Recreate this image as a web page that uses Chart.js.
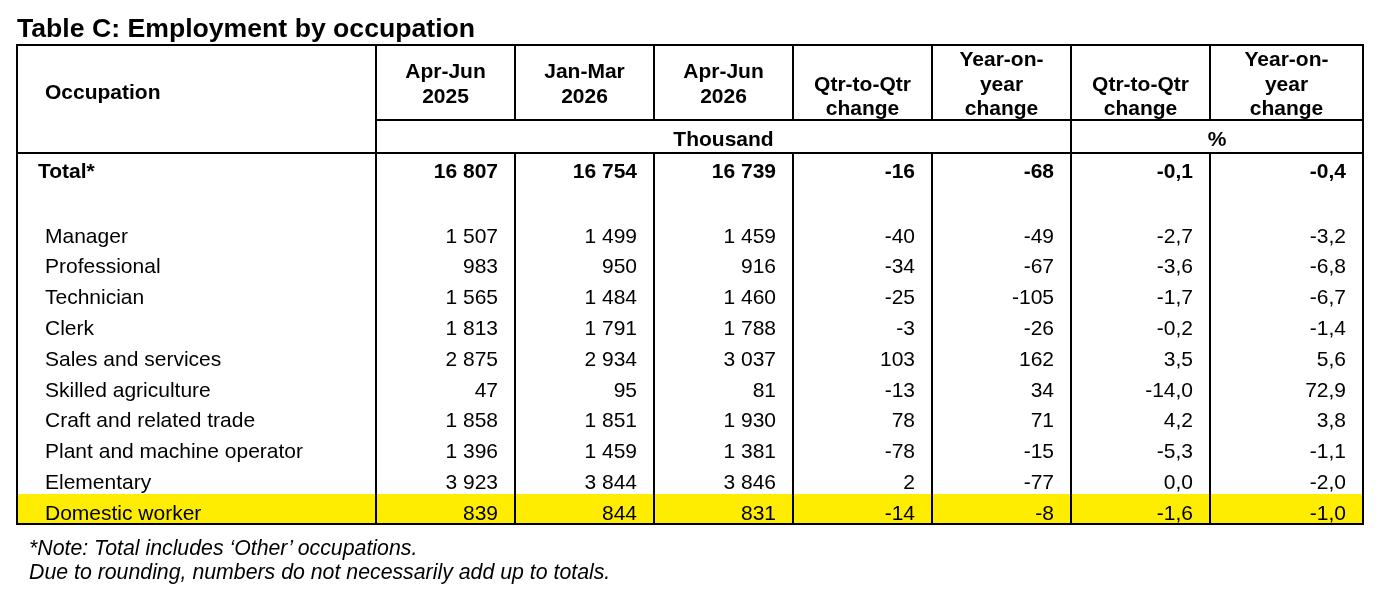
<!DOCTYPE html>
<html>
<head>
<meta charset="utf-8">
<script src="https://cdn.jsdelivr.net/npm/chart.js@4"></script>
<style>
    body {
        margin: 0;
        background: #ffffff;
        font-family: "Liberation Sans", Arial, sans-serif;
    }
    .wrap {
        position: relative;
        width: 1381px;
        height: 592px;
    }
    #tableChart {
        position: absolute;
        left: 0;
        top: 0;
    }
    .table__title {
        position: absolute;
        left: 17px;
        top: 15.5px;
        font-size: 25px;
        line-height: 1;
        font-weight: bold;
        color: #000;
        white-space: nowrap;
        transform: scaleX(1.065);
        transform-origin: left top;
    }
    .table__note {
        position: absolute;
        left: 29px;
        top: 536px;
        font-size: 21.3px;
        line-height: 24px;
        font-style: italic;
        color: #000;
        white-space: nowrap;
    }
</style>
</head>
<body>
<div class="wrap">
    <canvas id="tableChart" width="1381" height="592"></canvas>
    <div class="table__title">Table C: Employment by occupation</div>
    <div class="table__note">*Note: Total includes ‘Other’ occupations.<br>Due to rounding, numbers do not necessarily add up to totals.</div>
</div>
<script>
//данные таблицы
const occupations = [
    "Manager",
    "Professional",
    "Technician",
    "Clerk",
    "Sales and services",
    "Skilled agriculture",
    "Craft and related trade",
    "Plant and machine operator",
    "Elementary",
    "Domestic worker",
];
const aprJun2025 = [1507, 983, 1565, 1813, 2875, 47, 1858, 1396, 3923, 839];
const janMar2026 = [1499, 950, 1484, 1791, 2934, 95, 1851, 1459, 3844, 844];
const aprJun2026 = [1459, 916, 1460, 1788, 3037, 81, 1930, 1381, 3846, 831];
const qtrChange = [-40, -34, -25, -3, 103, -13, 78, -78, 2, -14];
const yoyChange = [-49, -67, -105, -26, 162, 34, 71, -15, -77, -8];
const qtrChangePct = [-2.7, -3.6, -1.7, -0.2, 3.5, -14.0, 4.2, -5.3, 0.0, -1.6];
const yoyChangePct = [-3.2, -6.8, -6.7, -1.4, 5.6, 72.9, 3.8, -1.1, -2.0, -1.0];
const totalLabel = "Total*";
const totals = [16807, 16754, 16739, -16, -68, -0.1, -0.4];
const columnHeaders = [
    ["Apr-Jun", "2025"],
    ["Jan-Mar", "2026"],
    ["Apr-Jun", "2026"],
    ["Qtr-to-Qtr", "change"],
    ["Year-on-", "year", "change"],
    ["Qtr-to-Qtr", "change"],
    ["Year-on-", "year", "change"],
];
const firstHeader = "Occupation";
const unitLabels = ["Thousand", "%"];
const highlightRow = "Domestic worker";

//разметка (в единицах шкал)
const TABLE_W = 1346;
const TABLE_H = 479;
const colEdges = [0, 359, 498, 637, 776, 915, 1054, 1193, 1346];
const unitSpans = [
    [1, 6],
    [6, 8],
];
const HEADER_BOTTOM = 75;
const UNIT_BOTTOM = 108;
const TOTAL_BASE = 133;
const ROW_BASE = 197.5;
const ROW_STEP = 30.8;
const HIGHLIGHT_TOP = 449;
const CELL_PAD = 17;
const FONT = '"Liberation Sans", Arial, sans-serif';
const highlightColor = "#ffed00";

function fmtThousand(v) {
    const sign = v < 0 ? "-" : "";
    const s = String(Math.abs(v));
    return sign + s.replace(/\B(?=(\d{3})+(?!\d))/g, " ");
}
function fmtPct(v) {
    return v.toFixed(1).replace(".", ",");
}
function rowBase(i) {
    return ROW_BASE + i * ROW_STEP;
}

const numericColumns = [
    aprJun2025,
    janMar2026,
    aprJun2026,
    qtrChange,
    yoyChange,
    qtrChangePct,
    yoyChangePct,
];

const datasets = [];
//названия строк
datasets.push({
    kind: "label",
    texts: [totalLabel].concat(occupations),
    data: [{ x: 21, y: TOTAL_BASE }].concat(
        occupations.map((o, i) => ({ x: 28, y: rowBase(i) }))
    ),
    pointRadius: 0,
});
numericColumns.forEach((values, c) => {
    const fmt = c < 5 ? fmtThousand : fmtPct;
    const anchor = colEdges[c + 2] - CELL_PAD;
    datasets.push({
        kind: "number",
        texts: [fmt(totals[c])].concat(values.map(fmt)),
        data: [{ x: anchor, y: TOTAL_BASE }].concat(
            values.map((v, i) => ({ x: anchor, y: rowBase(i) }))
        ),
        pointRadius: 0,
    });
});

const tablePlugin = {
    id: "tableGrid",
    beforeDatasetsDraw(chart) {
        const ctx = chart.ctx;
        const sx = chart.scales.x;
        const sy = chart.scales.y;
        const px = (v) => sx.getPixelForValue(v);
        const py = (v) => sy.getPixelForValue(v);
        ctx.save();
        //подсветка строки
        const hi = occupations.indexOf(highlightRow);
        if (hi >= 0) {
            ctx.fillStyle = highlightColor;
            ctx.fillRect(
                px(0),
                py(HIGHLIGHT_TOP),
                px(TABLE_W) - px(0),
                py(TABLE_H) - py(HIGHLIGHT_TOP)
            );
        }
        //линии
        ctx.strokeStyle = "#000";
        ctx.lineWidth = 2;
        ctx.beginPath();
        function line(x1, y1, x2, y2) {
            ctx.moveTo(px(x1), py(y1));
            ctx.lineTo(px(x2), py(y2));
        }
        line(colEdges[1], HEADER_BOTTOM, TABLE_W, HEADER_BOTTOM);
        line(0, UNIT_BOTTOM, TABLE_W, UNIT_BOTTOM);
        for (let i = 1; i < colEdges.length - 1; i++) {
            const e = colEdges[i];
            const full = unitSpans.some((s) => colEdges[s[0]] === e);
            if (full) {
                line(e, 0, e, TABLE_H);
            } else {
                line(e, 0, e, HEADER_BOTTOM);
                line(e, UNIT_BOTTOM, e, TABLE_H);
            }
        }
        ctx.stroke();
        ctx.strokeRect(px(0), py(0), px(TABLE_W) - px(0), py(TABLE_H) - py(0));
        ctx.restore();
    },
    afterDatasetsDraw(chart) {
        const ctx = chart.ctx;
        const sx = chart.scales.x;
        const sy = chart.scales.y;
        ctx.save();
        ctx.fillStyle = "#000";
        ctx.textBaseline = "alphabetic";
        //шапка
        ctx.font = "bold 21px " + FONT;
        ctx.textAlign = "left";
        ctx.fillText(firstHeader, sx.getPixelForValue(28), sy.getPixelForValue(54));
        ctx.textAlign = "center";
        columnHeaders.forEach((lines, c) => {
            const cx = sx.getPixelForValue((colEdges[c + 1] + colEdges[c + 2]) / 2);
            let start;
            if (c < 3) {
                start = 33.3; // по центру
            } else {
                start = 70 - (lines.length - 1) * 24.5; // по низу
            }
            lines.forEach((t, k) => {
                ctx.fillText(t, cx, sy.getPixelForValue(start + k * 24.5));
            });
        });
        unitLabels.forEach((t, k) => {
            const s = unitSpans[k];
            const cx = sx.getPixelForValue((colEdges[s[0]] + colEdges[s[1]]) / 2);
            ctx.fillText(t, cx, sy.getPixelForValue(101));
        });
        //ячейки
        chart.data.datasets.forEach((ds, d) => {
            const meta = chart.getDatasetMeta(d);
            ctx.textAlign = ds.kind === "label" ? "left" : "right";
            meta.data.forEach((pt, i) => {
                ctx.font = (i === 0 ? "bold " : "") + "21px " + FONT;
                ctx.fillText(ds.texts[i], pt.x, pt.y);
            });
        });
        ctx.restore();
    },
};

new Chart(document.getElementById("tableChart"), {
    type: "scatter",
    data: { datasets: datasets },
    options: {
        responsive: false,
        animation: false,
        events: [],
        layout: {
            padding: { left: 17, top: 45, right: 18, bottom: 68 },
        },
        plugins: {
            legend: { display: false },
            tooltip: { enabled: false },
        },
        scales: {
            x: { type: "linear", display: false, min: 0, max: TABLE_W },
            y: {
                type: "linear",
                display: false,
                reverse: true,
                min: 0,
                max: TABLE_H,
            },
        },
    },
    plugins: [tablePlugin],
});
</script>
</body>
</html>
